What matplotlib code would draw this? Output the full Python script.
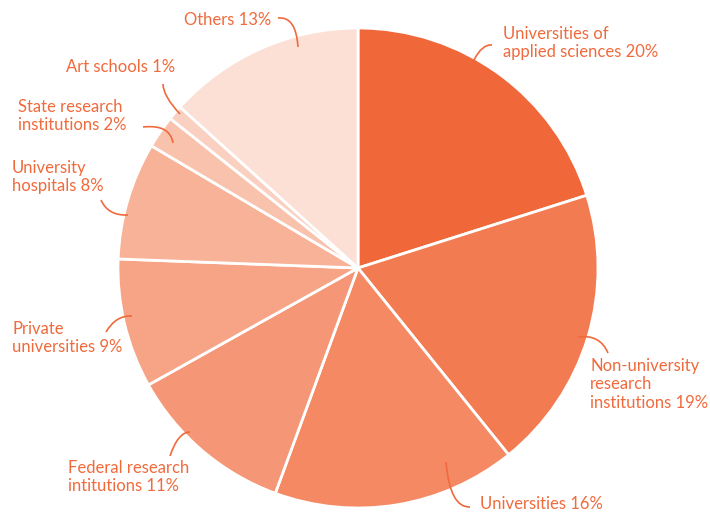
import matplotlib.pyplot as plt
from matplotlib.path import Path
from matplotlib.patches import PathPatch

# shares, clockwise from 12 o'clock
categories = ["Universities of\napplied sciences 20%",
              "Non-university\nresearch\ninstitutions 19%",
              "Universities 16%",
              "Federal research\nintitutions 11%",
              "Private\nuniversities 9%",
              "University\nhospitals 8%",
              "State research\ninstitutions 2%",
              "Art schools 1%",
              "Others 13%"]
shares = [20.1, 19.1, 16.4, 11.3, 8.7, 7.9, 2.2, 1.0, 13.3]
colors = ["#F0683A", "#F37B52", "#F58963", "#F59676", "#F7A486",
          "#F8B298", "#F9C2AC", "#FAD0C0", "#FCE0D6"]
text_color = "#F06A3C"

H = 513
# label anchor (x, y top of text) in pixels from top-left
label_pos = [(503, 26), (590, 358), (480, 496),
             (68, 460), (12, 321), (12, 160),
             (18, 99), (66, 59), (184, 12)]
# leader curves: start, control, end (pixels from top-left)
leaders = [((492, 45), (482, 44), (474, 60)),
           ((578, 337), (600, 334), (608, 353)),
           ((470, 507), (450, 508), (446, 462)),
           ((170, 456), (178, 432), (190, 432)),
           ((106, 332), (116, 315), (132, 316)),
           ((101, 200), (108, 216), (128, 215)),
           ((143, 127), (170, 124), (173, 143)),
           ((163, 84), (163, 96), (180, 114)),
           ((278, 18), (296, 16), (298, 47))]

plt.rcParams['font.family'] = ['Lato', 'DejaVu Sans']

fig = plt.figure(figsize=(7.10, 5.13), dpi=100)
ax = fig.add_axes([0, 0, 1, 1])

ax.pie(shares, colors=colors, startangle=90, counterclock=False,
       center=(358, H - 268), radius=240, frame=True,
       wedgeprops=dict(edgecolor='white', linewidth=2))
ax.set_xlim(0, 710)
ax.set_ylim(0, H)
ax.set_aspect('equal')
ax.axis('off')

for lab, (x, y) in zip(categories, label_pos):
    ax.text(x, H - y, lab, ha='left', va='top', color=text_color,
            fontsize=12, linespacing=1.18)

for (s, c, e) in leaders:
    verts = [(s[0], H - s[1]), (c[0], H - c[1]), (e[0], H - e[1])]
    path = Path(verts, [Path.MOVETO, Path.CURVE3, Path.CURVE3])
    ax.add_patch(PathPatch(path, fill=False, edgecolor=text_color, linewidth=1.2))

fig.savefig("out.png", dpi=100)
